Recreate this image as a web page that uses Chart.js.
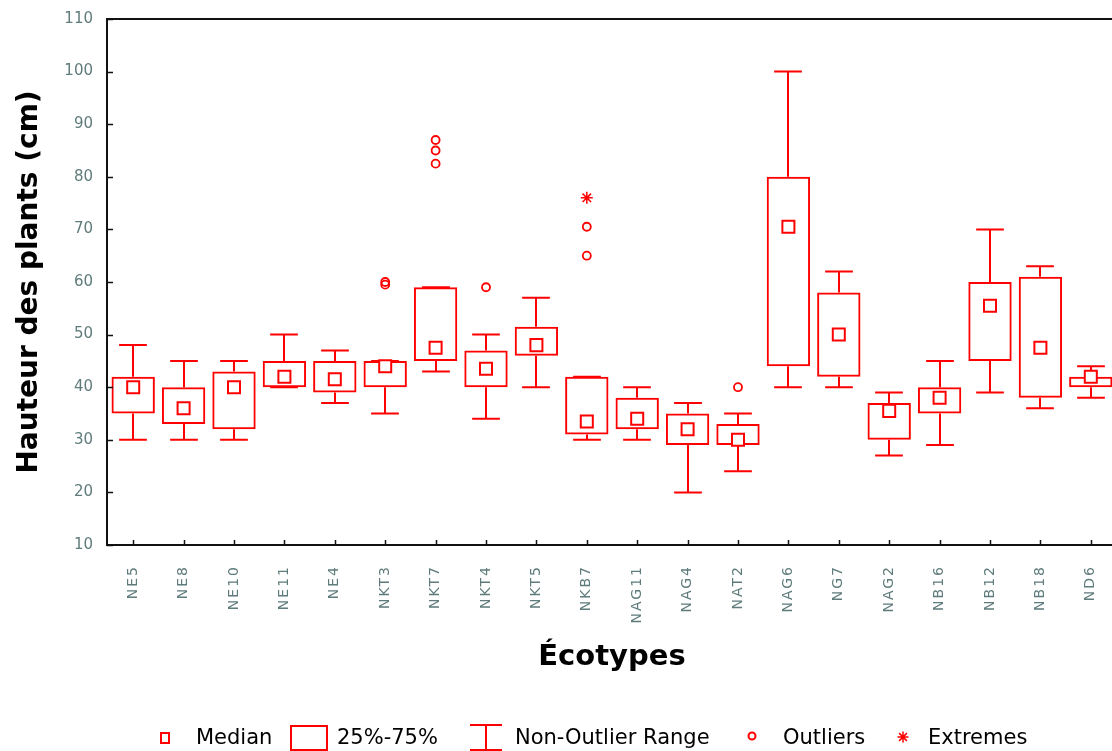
<!DOCTYPE html>
<html>
<head>
<meta charset="utf-8">
<title>Hauteur des plants par écotype</title>
<script src="https://cdn.jsdelivr.net/npm/chart.js@4/dist/chart.umd.min.js"></script>
<style>
  html, body { margin: 0; padding: 0; overflow: hidden; background: #fff; }
  #c { display: block; }
</style>
</head>
<body>
<canvas id="c" width="1116" height="751"></canvas>
<script>
// Plant height (cm) per ecotype: box = 25%-75%, whiskers = non-outlier range
const categories = ['NE5','NE8','NE10','NE11','NE4','NKT3','NKT7','NKT4','NKT5','NKB7',
                    'NAG11','NAG4','NAT2','NAG6','NG7','NAG2','NB16','NB12','NB18','ND6'];
const whiskerMin = [30, 30, 30, 40, 37, 35, 43, 34, 40, 30, 30, 20, 24, 40,  40, 27, 29, 39, 36, 38];
const q1         = [35, 33, 32, 40, 39, 40, 45, 40, 46, 31, 32, 29, 29, 44,  42, 30, 35, 45, 38, 40];
const medians    = [40, 36, 40, 42, 41.5, 44, 47.5, 43.5, 48, 33.5, 34, 32, 30, 70.5, 50, 35.5, 38, 55.5, 47.5, 42];
const q3         = [42, 40, 43, 45, 45, 45, 59, 47, 51.5, 42, 38, 35, 33, 80,  58, 37, 40, 60, 61, 42];
const whiskerMax = [48, 45, 45, 50, 47, 45, 59, 50, 57, 42, 40, 37, 35, 100, 62, 39, 45, 70, 63, 44];

const outlierCats   = ['NKT3','NKT3','NKT7','NKT7','NKT7','NKT4','NKB7','NKB7','NAT2'];
const outlierValues = [60, 59.5, 82.5, 85, 87, 59, 65, 70.5, 40];
const extremeCats   = ['NKB7'];
const extremeValues = [76];

const yTicks = { min: 10, max: 110, step: 10 };
const legendLabels = ['Median', '25%-75%', 'Non-Outlier Range', 'Outliers', 'Extremes'];

const RED = '#ff0000';
const TICK_COLOR = '#5f7b7b';

// Whiskers, frame, inward tick marks and the legend strip
const boxPlotExtras = {
  id: 'boxPlotExtras',
  afterLayout(chart) {
    const xs = chart.scales.x;
    if (!xs._spacedLabels) {
      const orig = xs.drawLabels;
      xs.drawLabels = function (area) {
        const c = this.ctx;
        c.save();
        c.letterSpacing = '2px';
        orig.call(this, area);
        c.restore();
      };
      xs._spacedLabels = true;
    }
  },
  beforeDatasetsDraw(chart) {
    const { ctx, scales: { x, y } } = chart;
    const cap = x.width / categories.length * 0.55;
    ctx.save();
    ctx.strokeStyle = RED;
    ctx.lineWidth = 2;
    categories.forEach((c, i) => {
      const cx = Math.round(x.getPixelForValue(i));
      const yMax = y.getPixelForValue(whiskerMax[i]);
      const yMin = y.getPixelForValue(whiskerMin[i]);
      const yQ3 = y.getPixelForValue(q3[i]);
      const yQ1 = y.getPixelForValue(q1[i]);
      ctx.beginPath();
      ctx.moveTo(cx, yQ3); ctx.lineTo(cx, yMax);
      ctx.moveTo(cx - cap / 2, yMax); ctx.lineTo(cx + cap / 2, yMax);
      ctx.moveTo(cx, yQ1); ctx.lineTo(cx, yMin);
      ctx.moveTo(cx - cap / 2, yMin); ctx.lineTo(cx + cap / 2, yMin);
      ctx.stroke();
    });
    ctx.restore();
  },
  afterDraw(chart) {
    const { ctx, chartArea: a, scales: { x, y } } = chart;
    ctx.save();
    // frame: left, top, bottom
    ctx.strokeStyle = '#111';
    ctx.lineWidth = 2;
    ctx.beginPath();
    ctx.moveTo(a.left - 1, a.top);
    ctx.lineTo(a.right + 2, a.top);
    ctx.moveTo(a.left - 1, a.top - 1);
    ctx.lineTo(a.left - 1, a.bottom + 1);
    ctx.moveTo(a.left - 2, a.bottom);
    ctx.lineTo(a.right + 2, a.bottom);
    ctx.stroke();
    // inward tick marks
    ctx.lineWidth = 1.5;
    ctx.beginPath();
    for (let v = yTicks.min; v <= yTicks.max; v += yTicks.step) {
      const py = Math.round(y.getPixelForValue(v)) + 0.5;
      ctx.moveTo(a.left - 1, py); ctx.lineTo(a.left + 5, py);
    }
    categories.forEach((c, i) => {
      const px = Math.round(x.getPixelForValue(i)) + 0.5;
      ctx.moveTo(px, a.bottom); ctx.lineTo(px, a.bottom - 5);
    });
    ctx.stroke();

    // legend
    const ly = 738;
    ctx.font = '21px "DejaVu Sans"';
    ctx.fillStyle = '#000';
    ctx.textBaseline = 'middle';
    ctx.textAlign = 'left';
    ctx.strokeStyle = RED;
    ctx.lineWidth = 2;
    const symbols = [
      (cx) => { ctx.strokeRect(cx - 4, ly - 5, 8, 10); },
      (cx) => { ctx.strokeRect(cx - 18, ly - 12, 36, 24); },
      (cx) => {
        ctx.beginPath();
        ctx.moveTo(cx - 16, ly - 13); ctx.lineTo(cx + 16, ly - 13);
        ctx.moveTo(cx, ly - 13); ctx.lineTo(cx, ly + 12);
        ctx.moveTo(cx - 16, ly + 12); ctx.lineTo(cx + 16, ly + 12);
        ctx.stroke();
      },
      (cx) => { ctx.beginPath(); ctx.arc(cx, ly - 2, 3.5, 0, Math.PI * 2); ctx.stroke(); },
      (cx) => {
        ctx.beginPath();
        const r = 5.5;
        for (let k = 0; k < 4; k++) {
          const ang = k * Math.PI / 4;
          ctx.moveTo(cx - r * Math.cos(ang), ly - 1 - r * Math.sin(ang));
          ctx.lineTo(cx + r * Math.cos(ang), ly - 1 + r * Math.sin(ang));
        }
        ctx.lineWidth = 1.5;
        ctx.stroke();
        ctx.lineWidth = 2;
      }
    ];
    const centers = [165, 309, 486, 752, 903];
    const textX = [196, 337, 515, 783, 928];
    legendLabels.forEach((t, i) => {
      symbols[i](centers[i]);
      ctx.fillText(t, textX[i], ly + 1);
    });
    ctx.restore();
  }
};

const boxData = categories.map((c, i) => [q1[i], q3[i]]);
const outlierPoints = outlierCats.map((c, i) => ({ x: c, y: outlierValues[i] }));
const extremePoints = extremeCats.map((c, i) => ({ x: c, y: extremeValues[i] }));

new Chart(document.getElementById('c'), {
  type: 'bar',
  data: {
    labels: categories,
    datasets: [
      {
        label: '25%-75%',
        data: boxData,
        backgroundColor: 'rgba(255,255,255,0)',
        borderColor: RED,
        borderWidth: 2,
        borderSkipped: false,
        barPercentage: 0.86,
        categoryPercentage: 1,
        order: 3
      },
      {
        type: 'line',
        label: 'Median',
        data: medians,
        showLine: false,
        pointStyle: 'rect',
        pointRadius: 8.5,
        pointBorderWidth: 2,
        pointBorderColor: RED,
        pointBackgroundColor: '#fff',
        order: 0
      },
      {
        type: 'line',
        label: 'Outliers',
        data: outlierPoints,
        showLine: false,
        pointStyle: 'circle',
        pointRadius: 4,
        pointBorderWidth: 1.8,
        pointBorderColor: RED,
        pointBackgroundColor: 'rgba(255,255,255,0)',
        order: 1
      },
      {
        type: 'line',
        label: 'Extremes',
        data: extremePoints,
        showLine: false,
        pointStyle: 'star',
        pointRadius: 6,
        pointBorderWidth: 1.5,
        pointBorderColor: RED,
        order: 1
      }
    ]
  },
  options: {
    responsive: false,
    maintainAspectRatio: false,
    devicePixelRatio: 1,
    animation: false,
    events: [],
    layout: { autoPadding: false, padding: { top: 19, right: 0, bottom: 36, left: 0 } },
    plugins: { legend: { display: false }, tooltip: { enabled: false } },
    scales: {
      x: {
        type: 'category',
        offset: true,
        grid: { display: false, drawTicks: false },
        border: { display: false },
        ticks: {
          autoSkip: false,
          minRotation: 90,
          maxRotation: 90,
          padding: 20,
          color: TICK_COLOR,
          font: { family: '"DejaVu Sans"', size: 14 }
        },
        title: {
          display: true,
          text: 'Écotypes',
          color: '#000',
          font: { family: '"DejaVu Sans"', size: 29, weight: 'bold' },
          padding: { top: 0, bottom: 40 }
        },
        afterFit(s) { s.height = 170; s.paddingLeft = 0; s.paddingRight = 0; }
      },
      y: {
        min: yTicks.min,
        max: yTicks.max,
        grid: { display: false, drawTicks: false },
        border: { display: false },
        ticks: {
          stepSize: yTicks.step,
          padding: 15,
          color: TICK_COLOR,
          font: { family: '"DejaVu Sans"', size: 15 }
        },
        title: {
          display: true,
          text: 'Hauteur des plants (cm)',
          color: '#000',
          font: { family: '"DejaVu Sans"', size: 28, weight: 'bold' },
          padding: { top: 13, bottom: 0 }
        },
        afterFit(s) { s.width = 108; s.paddingTop = 0; s.paddingBottom = 0; }
      }
    }
  },
  plugins: [boxPlotExtras]
});
</script>
</body>
</html>
